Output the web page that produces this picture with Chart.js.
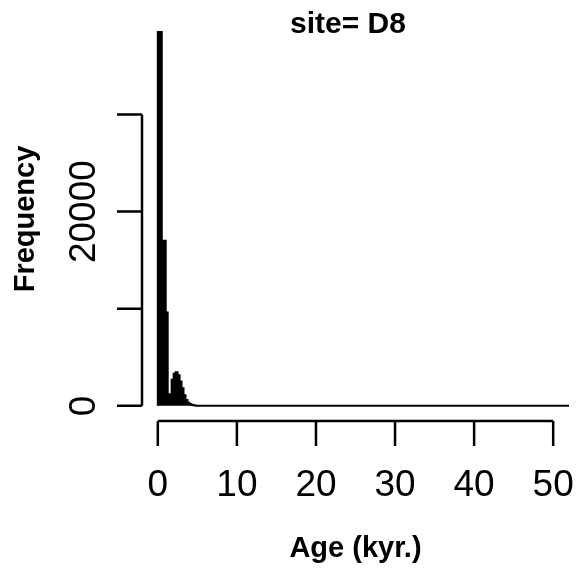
<!DOCTYPE html>
<html lang="en">
<head>
    <meta charset="UTF-8">
    <title>site= D8</title>
    <script src="https://cdn.jsdelivr.net/npm/chart.js"></script>
    <style>
        html, body { margin: 0; padding: 0; background: #fff; }
        #wrap { width: 577px; height: 573px; }
    </style>
</head>
<body>
    <div id="wrap">
        <canvas id="histChart" width="577" height="573"></canvas>
    </div>
    <script>
        // histogram bins (right edge of each bin, kyr) and their counts
        const binEnds = [0.25, 0.5, 0.75, 1.0, 1.25, 1.5, 1.75, 2.0, 2.25, 2.5,
                         2.75, 3.0, 3.25, 3.5, 3.75, 4.0, 4.25, 4.5, 4.75, 5.0, 52];
        const counts = [38500, 38500, 17000, 17000, 9600, 700, 1200, 2700, 3300, 3450,
                        3150, 2500, 1800, 1100, 600, 330, 180, 100, 50, 20, 0];
        const xTicks = [0, 10, 20, 30, 40, 50];
        const yTicks = [0, 10000, 20000, 30000];
        const yTickLabels = ['0', '', '20000', ''];

        const points = [{ x: 0, y: 0 }].concat(binEnds.map((x, i) => ({ x: x, y: counts[i] })));

        // solid fill under the stepped outline, polygon from the line's own pixel points
        const histFill = {
            id: 'histFill',
            beforeDatasetsDraw(chart) {
                const ctx = chart.ctx, area = chart.chartArea;
                const pts = chart.getDatasetMeta(0).data;
                ctx.save();
                ctx.beginPath();
                ctx.rect(area.left, area.top, area.right - area.left, area.bottom - area.top);
                ctx.clip();
                ctx.beginPath();
                ctx.moveTo(pts[0].x, pts[0].y);
                for (let i = 1; i < pts.length; i++) {
                    ctx.lineTo(pts[i - 1].x, pts[i].y);
                    ctx.lineTo(pts[i].x, pts[i].y);
                }
                ctx.closePath();
                ctx.fillStyle = '#000';
                ctx.fill();
                ctx.restore();
            }
        };

        // R style detached axes drawn from the chart's own scales
        const rAxes = {
            id: 'rAxes',
            afterDraw(chart) {
                const ctx = chart.ctx;
                const xs = chart.scales.x, ys = chart.scales.y, area = chart.chartArea;
                ctx.save();
                ctx.strokeStyle = '#000';
                ctx.fillStyle = '#000';
                ctx.lineWidth = 2.5;

                // x axis
                const ay = area.bottom;
                ctx.beginPath();
                ctx.moveTo(xs.getPixelForValue(xTicks[0]), ay);
                ctx.lineTo(xs.getPixelForValue(xTicks[xTicks.length - 1]), ay);
                xTicks.forEach(t => {
                    const px = xs.getPixelForValue(t);
                    ctx.moveTo(px, ay);
                    ctx.lineTo(px, ay + 25);
                });
                ctx.stroke();
                ctx.font = '37px "Liberation Sans", Arial, sans-serif';
                ctx.textAlign = 'center';
                ctx.textBaseline = 'alphabetic';
                xTicks.forEach(t => {
                    ctx.fillText(String(t), xs.getPixelForValue(t), ay + 75);
                });

                // y axis
                const ax = area.left;
                ctx.beginPath();
                ctx.moveTo(ax, ys.getPixelForValue(yTicks[0]));
                ctx.lineTo(ax, ys.getPixelForValue(yTicks[yTicks.length - 1]));
                yTicks.forEach(t => {
                    const py = ys.getPixelForValue(t);
                    ctx.moveTo(ax, py);
                    ctx.lineTo(ax - 25, py);
                });
                ctx.stroke();
                yTicks.forEach((t, i) => {
                    if (!yTickLabels[i]) return;
                    ctx.save();
                    ctx.translate(ax - 47, ys.getPixelForValue(t));
                    ctx.rotate(-Math.PI / 2);
                    ctx.fillText(yTickLabels[i], 0, 0);
                    ctx.restore();
                });

                // titles
                const midX = (area.left + area.right) / 2;
                const midY = (area.top + area.bottom) / 2;
                ctx.font = 'bold 29px "Liberation Sans", Arial, sans-serif';
                ctx.fillText('Age (kyr.)', midX, 557);
                ctx.save();
                ctx.translate(34, midY);
                ctx.rotate(-Math.PI / 2);
                ctx.fillText('Frequency', 0, 0);
                ctx.restore();
                ctx.font = 'bold 30px "Liberation Sans", Arial, sans-serif';
                ctx.fillText('site= D8', 348, 33);
                ctx.restore();
            }
        };

        const ctx = document.getElementById('histChart').getContext('2d');
        new Chart(ctx, {
            type: 'line',
            data: {
                datasets: [{
                    label: 'Frequency',
                    data: points,
                    stepped: 'after',
                    fill: false,
                    borderColor: '#000',
                    borderWidth: 2,
                    pointRadius: 0,
                    tension: 0
                }]
            },
            options: {
                responsive: false,
                animation: false,
                devicePixelRatio: 1,
                layout: { padding: { left: 142, right: 8, top: 17, bottom: 152 } },
                plugins: { legend: { display: false }, tooltip: { enabled: false } },
                scales: {
                    x: { type: 'linear', min: -2, max: 52, display: false },
                    y: { type: 'linear', min: -1560, max: 40040, display: false }
                }
            },
            plugins: [histFill, rAxes]
        });
    </script>
</body>
</html>
